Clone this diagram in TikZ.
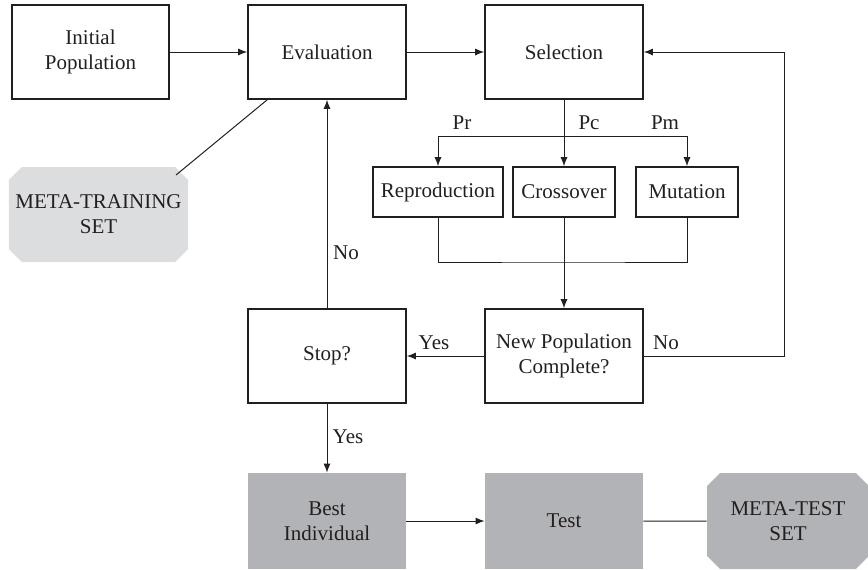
\documentclass[tikz,border=0pt]{standalone}
\usepackage{fontspec}
\setmainfont{Liberation Serif}
\usetikzlibrary{arrows.meta,shapes.misc}

\definecolor{inkgray}{RGB}{35,31,32}
\definecolor{lightfill}{RGB}{220,221,222}
\definecolor{darkfill}{RGB}{178,179,182}

\tikzset{
  box/.style={draw=inkgray, line width=0.8pt, minimum width=79pt, minimum height=47pt, align=center, inner sep=2pt},
  opbox/.style={draw=inkgray, line width=0.8pt, minimum height=25pt, align=center, inner sep=1pt},
  greybox/.style={fill=darkfill, minimum width=79pt, minimum height=48pt, align=center, inner sep=2pt},
  setbox/.style={chamfered rectangle, chamfered rectangle xsep=3.3pt, chamfered rectangle ysep=3.3pt, align=center, inner sep=0pt},
  link/.style={draw=inkgray, line width=0.5pt},
  flow/.style={link, -{Latex[length=4.5pt,width=3.5pt]}},
  lbl/.style={text=inkgray, inner sep=1pt}
}

\begin{document}
\begin{tikzpicture}[x=0.5pt, y=-0.5pt, font=\fontsize{10.5}{12.5}\selectfont, text=inkgray]
  \useasboundingbox (0,0) rectangle (868,569);

  % top row
  \node[box, minimum width=78.5pt] (init) at (90.5,52) {Initial\\Population};
  \node[box] (eval) at (327,52) {Evaluation};
  \node[box] (sel) at (564,52) {Selection};

  \node[setbox, fill=lightfill, minimum width=86.5pt, minimum height=47.5pt] (mtrain) at (98.5,214.5) {META-TRAINING\\SET};

  % genetic operators
  \node[opbox, minimum width=65pt] (repr) at (438,192) {Reproduction};
  \node[opbox, minimum width=51pt] (cross) at (564,192) {Crossover};
  \node[opbox, minimum width=51pt] (mut) at (687,192) {Mutation};

  % middle row
  \node[box] (stop) at (327,356) {Stop?};
  \node[box] (newpop) at (564,356) {New Population\\Complete?};

  % bottom row
  \node[greybox] (best) at (327,521) {Best\\Individual};
  \node[greybox] (test) at (564,521) {Test};
  \node[setbox, fill=darkfill, minimum width=81pt, minimum height=48pt] (mtest) at (788,521) {META-TEST\\SET};

  \coordinate (split) at (564,136);
  \coordinate (join) at (564,262);

  \draw[flow] (init) -- (eval);
  \draw[flow] (eval) -- (sel);
  \draw[link] (eval.south west) ++(20,0) -- (176,175);

  \draw[link] (sel.south) -- (split);
  \draw[flow] (split) -| (repr.north);
  \draw[flow] (split) -- (cross.north);
  \draw[flow] (split) -| (mut.north);
  \node[lbl] (pr) at (462,123) {Pr};
  \node[lbl] (pc) at (589,123) {Pc};
  \node[lbl] (pm) at (665,123) {Pm};

  \draw[link] (repr.south) |- (join) -| (mut.south);
  \draw[flow] (cross.south) -- (newpop.north);

  \draw[flow] (newpop.west) -- (stop.east);
  \node[lbl] (yes1) at (434,343) {Yes};
  \draw[flow] (newpop.east) -- (784,356) |- (sel.east);
  \node[lbl] (no1) at (666,343) {No};

  \draw[flow] (stop.north) -- (eval.south);
  \node[lbl] (no2) at (346,253) {No};
  \draw[flow] (stop.south) -- (best.north);
  \node[lbl] (yes2) at (348,437) {Yes};

  \draw[flow] (best) -- (test);
  \draw[link] (test) -- (mtest);
\end{tikzpicture}
\end{document}
